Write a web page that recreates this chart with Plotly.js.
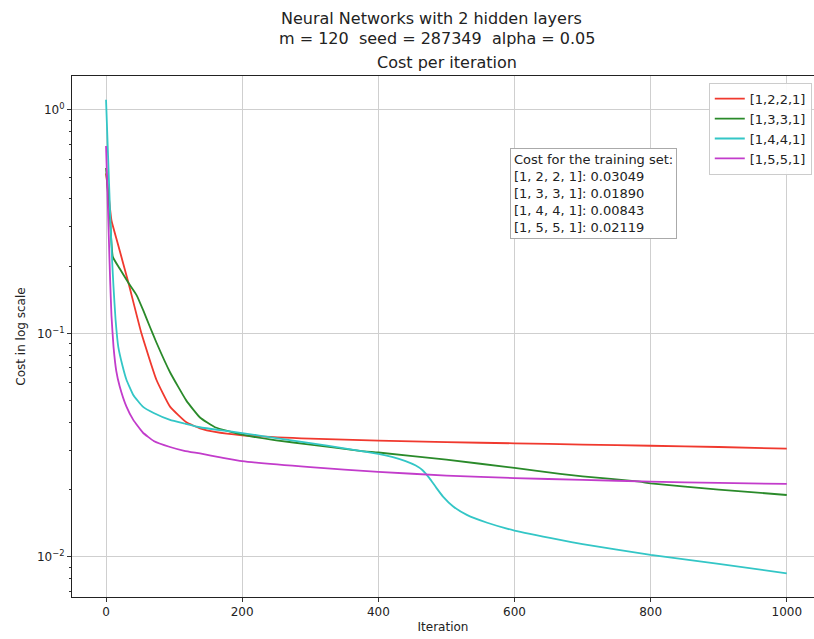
<!DOCTYPE html>
<html>
<head>
<meta charset="utf-8">
<script src="https://cdn.plot.ly/plotly-3.0.1.min.js"></script>
<style>html,body{margin:0;padding:0;background:#fff;}#chart{width:814px;height:639px;}</style>
</head>
<body>
<div id="chart"></div>
<script>
// Data
const seriesNames = ["[1,2,2,1]", "[1,3,3,1]", "[1,4,4,1]", "[1,5,5,1]"];

const iterRed = [0, 4, 8, 17, 33, 52, 74, 94, 118, 138, 160, 200, 300, 400, 500, 600, 700, 800, 900, 1000];
const costRed = [0.52, 0.41, 0.32, 0.254, 0.168, 0.100, 0.062, 0.047, 0.040, 0.0376, 0.0362, 0.0350, 0.0338, 0.0331, 0.0326, 0.0322, 0.0318, 0.0314, 0.0310, 0.03049];

const iterGreen = [0, 3, 6, 10, 20, 33, 45, 55, 65, 74, 94, 118, 138, 160, 200, 250, 300, 373, 400, 500, 600, 667, 700, 784, 800, 900, 1000];
const costGreen = [0.55, 0.42, 0.32, 0.22, 0.195, 0.168, 0.148, 0.126, 0.106, 0.091, 0.067, 0.050, 0.042, 0.038, 0.0352, 0.0332, 0.0318, 0.0298, 0.0293, 0.0272, 0.0250, 0.0235, 0.0229, 0.0217, 0.0213, 0.0200, 0.0189];

const iterCyan = [0, 3, 6, 9, 11, 14, 18, 24, 30, 40, 54, 70, 94, 115, 138, 170, 200, 250, 300, 350, 373, 400, 420, 440, 455, 465, 475, 485, 495, 510, 530, 560, 600, 667, 700, 800, 900, 1000];
const costCyan = [1.11, 0.62, 0.346, 0.21, 0.161, 0.115, 0.087, 0.072, 0.062, 0.053, 0.047, 0.044, 0.041, 0.0395, 0.038, 0.0368, 0.0358, 0.0340, 0.0323, 0.0306, 0.0298, 0.0289, 0.0280, 0.0268, 0.0256, 0.0244, 0.0225, 0.0204, 0.0186, 0.0168, 0.0154, 0.0142, 0.0131, 0.0119, 0.0114, 0.0102, 0.0093, 0.00843];

const iterMag = [0, 2, 4, 6, 8, 11, 15, 20, 30, 40, 54, 70, 94, 115, 138, 170, 200, 300, 400, 500, 600, 700, 800, 900, 1000];
const costMag = [0.69, 0.436, 0.275, 0.174, 0.12, 0.087, 0.068, 0.058, 0.047, 0.041, 0.036, 0.033, 0.031, 0.0298, 0.029, 0.0278, 0.0268, 0.0252, 0.0240, 0.0231, 0.0225, 0.0221, 0.0217, 0.0214, 0.02119];

const finalCosts = ["0.03049", "0.01890", "0.00843", "0.02119"];
const finalLabels = ["[1, 2, 2, 1]", "[1, 3, 3, 1]", "[1, 4, 4, 1]", "[1, 5, 5, 1]"];

const xTickVals = [0, 200, 400, 600, 800, 1000];
const yTickVals = [1, 0.1, 0.01];
const yTickText = ["10<sup>0</sup>", "10<sup>−1</sup>", "10<sup>−2</sup>"];

const colors = ["#f0392e", "#2a8a2a", "#33c6c6", "#c23ccb"];
const xs = [iterRed, iterGreen, iterCyan, iterMag];
const ys = [costRed, costGreen, costCyan, costMag];

const traces = seriesNames.map((n, i) => ({
  x: xs[i], y: ys[i], name: n, type: "scatter", mode: "lines",
  line: {color: colors[i], width: 1.8, shape: "spline", smoothing: 0.4}
}));

const fam = "DejaVu Sans, sans-serif";
const font = {family: fam, color: "#222", size: 12};

const boxText = "Cost for the training set:<br>" +
  finalLabels.map((l, i) => l + ": " + finalCosts[i]).join("<br>");

const layout = {
  width: 814, height: 639,
  margin: {l: 72, r: 0, t: 76, b: 42},
  paper_bgcolor: "#fff", plot_bgcolor: "#fff",
  font: font,
  showlegend: true,
  legend: {x: 0.997, xanchor: "right", y: 0.987, yanchor: "top",
    bgcolor: "rgba(255,255,255,0.9)", bordercolor: "#cccccc", borderwidth: 1,
    font: {family: fam, size: 13, color: "#222"},
    tracegroupgap: 0},
  xaxis: {range: [-50, 1040], tickvals: xTickVals, ticks: "outside", ticklen: 4,
    tickcolor: "#333", showline: true, linecolor: "#222", linewidth: 1, mirror: true,
    showgrid: true, gridcolor: "#cfcfcf", gridwidth: 1, zeroline: false,
    tickfont: {size: 12, color: "#222"},
    title: {text: "Iteration", font: {size: 12, color: "#222"}, standoff: 4}},
  yaxis: {type: "log", range: [-2.18, 0.152], tickvals: yTickVals, ticktext: yTickText,
    ticks: "outside", ticklen: 4, tickcolor: "#333",
    showline: true, linecolor: "#222", linewidth: 1, mirror: true,
    showgrid: true, gridcolor: "#cfcfcf", gridwidth: 1, zeroline: false,
    tickfont: {size: 12, color: "#222"},
    minor: {ticks: "outside", ticklen: 2, tickcolor: "#333", showgrid: false,
      tickvals: [0.007,0.008,0.009,0.02,0.03,0.04,0.05,0.06,0.07,0.08,0.09,0.2,0.3,0.4,0.5,0.6,0.7,0.8,0.9]},
    title: {text: "Cost in log scale", font: {size: 12, color: "#222"}, standoff: 8}},
  annotations: [
    {text: "Neural Networks with 2 hidden layers", xref: "paper", yref: "paper",
     x: 0.485, y: 1, yshift: 58, xanchor: "center", yanchor: "middle", showarrow: false,
     font: {size: 16, color: "#222"}},
    {text: "m = 120  seed = 287349  alpha = 0.05", xref: "paper", yref: "paper",
     x: 0.492, y: 1, yshift: 38, xanchor: "center", yanchor: "middle", showarrow: false,
     font: {size: 16, color: "#222"}},
    {text: "Cost per iteration", xref: "paper", yref: "paper",
     x: 0.505, y: 1, yshift: 14, xanchor: "center", yanchor: "middle", showarrow: false,
     font: {size: 16, color: "#222"}},
    {text: boxText, xref: "paper", yref: "paper", x: 0.590, y: 0.862, xanchor: "left", yanchor: "top",
     align: "left", showarrow: false, bordercolor: "#aaaaaa", borderwidth: 1, borderpad: 3,
     bgcolor: "#fff", font: {size: 13, color: "#222"}}
  ]
};

Plotly.newPlot("chart", traces, layout, {displayModeBar: false, staticPlot: true});
</script>
</body>
</html>
